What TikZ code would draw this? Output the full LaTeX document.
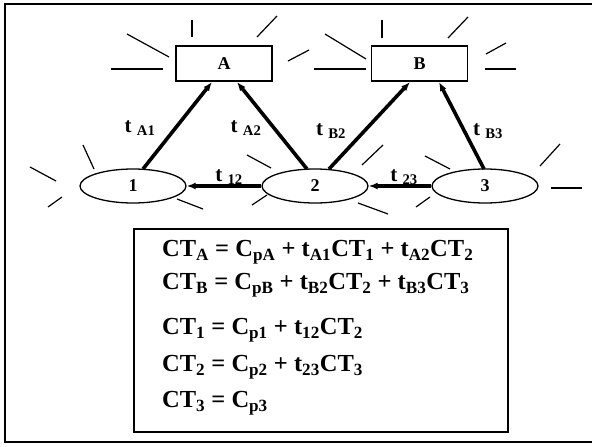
\documentclass[tikz,border=0pt]{standalone}
\usepackage{fontspec}
\setmainfont{Liberation Serif}
\usepackage{tikz}
\usetikzlibrary{arrows.meta,shapes.geometric}
\newcommand{\sub}[1]{\textsubscript{#1}}

\begin{document}
\begin{tikzpicture}[
    x=1pt, y=-1pt,
    >={Latex[length=9pt,width=7pt]},
    font=\bfseries,
    site/.style={
        rectangle,
        draw,
        line width=1.4pt,
        minimum width=96pt,
        minimum height=35pt,
        font=\bfseries\fontsize{18}{18}\selectfont
    },
    cell/.style={
        ellipse,
        draw,
        line width=1.3pt,
        minimum width=106pt,
        minimum height=34pt,
        inner sep=0pt,
        font=\bfseries\fontsize{18}{18}\selectfont
    },
    flow/.style={
        ->,
        line width=3.6pt
    },
    rate/.style={
        inner sep=1pt,
        font=\bfseries\fontsize{21}{21}\selectfont
    },
    glare/.style={
        line width=1.2pt
    },
    eqline/.style={
        anchor=west,
        inner sep=0pt,
        font=\bfseries\fontsize{24.5}{24.5}\selectfont
    }
]

\useasboundingbox (0,0) rectangle (592,447);

% frame
\draw[line width=2.6pt] (592,4) -- (5,4) -- (5,442) -- (592,442);

\node[site] (sA) at (224,63.5) {A};
\node[site] (sB) at (419.5,63.5) {B};

\node[cell] (c1) at (133,186) {1};
\node[cell] (c2) at (315,186) {2};
\node[cell] (c3) at (485,186) {3};

\coordinate (c1top) at (143,169);
\coordinate (c2topL) at (307,169);
\coordinate (c2topR) at (329,169);
\coordinate (c3top) at (484,169);
\coordinate (sAin1) at (212,82);
\coordinate (sAin2) at (237,82);
\coordinate (sBin2) at (410,82);
\coordinate (sBin3) at (439,82);

\draw[flow] (c1top) -- (sAin1);
\draw[flow] (c2topL) -- (sAin2);
\draw[flow] (c2topR) -- (sBin2);
\draw[flow] (c3top) -- (sBin3);
\draw[flow] (c2.west) -- (c1.east);
\draw[flow] (c3.west) -- (c2.east);

\node[rate] (tA1) at (140,128) {t \sub{A1}};
\node[rate] (tA2) at (246,128) {t \sub{A2}};
\node[rate] (tB2) at (331,131) {t \sub{B2}};
\node[rate] (tB3) at (488,131) {t \sub{B3}};
\node[rate] (t12) at (229,177) {t \sub{12}};
\node[rate] (t23) at (404,177) {t \sub{23}};

% glare round A
\draw[glare] (111,69) -- (163,69);
\draw[glare] (127,34) -- (169,57);
\draw[glare] (192,20) -- (192,37);
\draw[glare] (257,37) -- (277,16);
\draw[glare] (288,61) -- (309,50);

% glare round B
\draw[glare] (314,69) -- (366,69);
\draw[glare] (325,34) -- (366,59);
\draw[glare] (382,20) -- (382,38);
\draw[glare] (448,38) -- (468,17);
\draw[glare] (486,54) -- (506,43);
\draw[glare] (485,69) -- (516,69);

% glare round 1
\draw[glare] (83,145) -- (94,169);
\draw[glare] (30,167) -- (56,181);
\draw[glare] (48,207) -- (62,197);
\draw[glare] (177,199) -- (203,209);

% glare round 2
\draw[glare] (247,155) -- (271,168);
\draw[glare] (252,205) -- (267,195);
\draw[glare] (362,165) -- (383,145);
\draw[glare] (358,203) -- (388,214);

% glare round 3
\draw[glare] (425,156) -- (450,169);
\draw[glare] (416,207) -- (430,197);
\draw[glare] (540,166) -- (560,144);
\draw[glare] (551,188) -- (582,188);

% equations
\draw[line width=1.4pt] (134,229) rectangle (508,432);

\node[eqline] (eqA) at (162,252)
{CT\sub{A} = C\sub{pA} + t\sub{A1}CT\sub{1} + t\sub{A2}CT\sub{2}};
\node[eqline] (eqB) at (162,285)
{CT\sub{B} = C\sub{pB} + t\sub{B2}CT\sub{2} + t\sub{B3}CT\sub{3}};
\node[eqline] (eq1) at (162,330)
{CT\sub{1} = C\sub{p1} + t\sub{12}CT\sub{2}};
\node[eqline] (eq2) at (162,367)
{CT\sub{2} = C\sub{p2} + t\sub{23}CT\sub{3}};
\node[eqline] (eq3) at (162,403)
{CT\sub{3} = C\sub{p3}};

\end{tikzpicture}
\end{document}
